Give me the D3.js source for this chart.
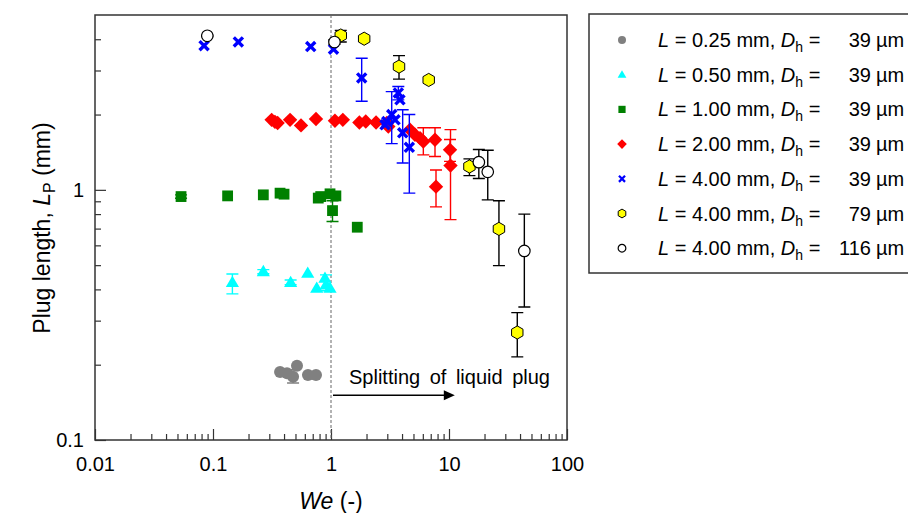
<!DOCTYPE html>
<html>
<head>
<meta charset="utf-8">
<script src="https://cdn.jsdelivr.net/npm/d3@7/dist/d3.min.js"></script>
<style>
  body { margin: 0; background: #fff; }
  text { font-family: Arial, "Liberation Sans", sans-serif; fill: #000; }
</style>
</head>
<body>
<script>
// legend labels
const seriesL = ["0.25", "0.50", "1.00", "2.00", "4.00", "4.00", "4.00"];
const seriesDh = ["39", "39", "39", "39", "39", "79", "116"];

// points: [We, Lp, errLow, errHigh]
const gray = [[0.370, 0.187], [0.424, 0.185], [0.515, 0.198], [0.477, 0.179, 0.169, 0.191],
  [0.638, 0.182], [0.746, 0.182]];
const cyan = [[0.146, 0.426, 0.384, 0.461], [0.267, 0.471, 0.462, 0.480], [0.455, 0.426, 0.418, 0.436],
  [0.635, 0.464], [0.757, 0.404], [0.889, 0.443], [0.907, 0.417, 0.395, 0.457], [0.981, 0.404]];
const green = [[0.0536, 0.940, 0.925, 0.955], [0.133, 0.946], [0.267, 0.955], [0.370, 0.970],
  [0.400, 0.961], [0.780, 0.927], [0.818, 0.940], [0.981, 0.964], [1.10, 0.946],
  [1.03, 0.826, 0.747, 0.905], [1.67, 0.709]];
const red = [[0.314, 1.905], [0.335, 1.87], [0.353, 1.85], [0.450, 1.905], [0.557, 1.81],
  [0.746, 1.92], [1.08, 1.89], [1.26, 1.905], [1.74, 1.86], [1.97, 1.875], [2.41, 1.86],
  [2.97, 1.85], [3.06, 1.79], [4.67, 1.74], [5.15, 1.66], [5.68, 1.61],
  [6.06, 1.56, 1.38, 1.77], [7.61, 1.585, 1.36, 1.77], [10.2, 1.445, 1.30, 1.59],
  [10.3, 1.25, 0.76, 1.74], [7.76, 1.03, 0.855, 1.20]];
const blue = [[0.084, 3.77], [0.164, 3.90], [0.673, 3.74], [1.05, 3.65],
  [1.82, 2.80, 2.26, 3.36], [3.72, 2.44, 2.29, 2.59], [3.84, 2.29], [3.27, 2.0, 1.53, 2.47],
  [2.97, 1.875], [2.87, 1.82], [3.49, 1.905], [4.05, 1.69, 1.28, 2.09], [4.61, 1.48, 0.97, 2.0]];
const yellow = [[1.21, 4.14, 3.90, 4.34], [1.91, 4.02], [3.77, 3.11, 2.77, 3.44], [6.73, 2.75],
  [14.9, 1.24, 1.14, 1.33], [26.5, 0.698, 0.498, 0.904], [37.9, 0.269, 0.215, 0.323]];
const openc = [[0.0895, 4.13, 4.10, 4.16], [1.07, 3.90, 3.82, 3.98], [17.9, 1.29, 1.11, 1.45],
  [21.3, 1.18, 0.912, 1.44], [43.5, 0.570, 0.34, 0.80]];

// ticks
const xMajor = [0.01, 0.1, 1, 10, 100];
const xLabels = ["0.01", "0.1", "1", "10", "100"];
const yMajor = [0.1, 1];
const yLabels = ["0.1", "1"];

(function() {
  const W = 908, H = 513;
  const svg = d3.select("body").append("svg")
    .attr("width", W).attr("height", H);

  const left = 95, right = 567, top = 15, bottom = 440;

  const x = d3.scaleLog().domain([0.01, 100]).range([left, right]);
  const y = d3.scaleLog().domain([0.1, 5]).range([bottom, top]);

  // minor ticks
  let xMinor = [];
  [0.01, 0.1, 1, 10].forEach(d => { for (let k = 2; k <= 9; k++) xMinor.push(d * k); });
  let yMinor = [];
  [0.1, 1].forEach(d => { for (let k = 2; k <= 9; k++) if (d * k < 5) yMinor.push(d * k); });

  const axisColor = "#333";

  svg.append("g").attr("transform", `translate(0,${bottom})`)
    .call(d3.axisBottom(x).tickValues(xMinor).tickSize(-6).tickSizeOuter(0).tickFormat(""));
  svg.append("g").attr("transform", `translate(0,${bottom})`)
    .call(d3.axisBottom(x).tickValues(xMajor).tickSize(-11).tickSizeOuter(0).tickPadding(17)
      .tickFormat((d, i) => xLabels[i]));
  svg.append("g").attr("transform", `translate(${left},0)`)
    .call(d3.axisLeft(y).tickValues(yMinor).tickSize(-6).tickSizeOuter(0).tickFormat(""));
  svg.append("g").attr("transform", `translate(${left},0)`)
    .call(d3.axisLeft(y).tickValues(yMajor).tickSize(-11).tickSizeOuter(0).tickPadding(11)
      .tickFormat((d, i) => yLabels[i]));

  svg.selectAll(".domain").remove();
  svg.selectAll(".tick line").attr("stroke", axisColor).attr("stroke-width", 1.2);
  svg.selectAll(".tick text").attr("font-size", 20).attr("font-family", "Arial, 'Liberation Sans', sans-serif").attr("fill", "#000");

  // frame
  svg.append("rect")
    .attr("x", left).attr("y", top).attr("width", right - left).attr("height", bottom - top)
    .attr("fill", "none").attr("stroke", axisColor).attr("stroke-width", 1.5);

  // We = 1 dashed line
  svg.append("line")
    .attr("x1", x(1)).attr("x2", x(1)).attr("y1", top).attr("y2", bottom)
    .attr("stroke", "#666").attr("stroke-width", 1).attr("stroke-dasharray", "3,2");

  // arrow annotation
  const ay = y(0.151);
  svg.append("line")
    .attr("x1", x(1) + 2).attr("x2", x(11.2) - 10).attr("y1", ay).attr("y2", ay)
    .attr("stroke", "#000").attr("stroke-width", 1.3);
  svg.append("path")
    .attr("d", `M${x(11.2)},${ay} L${x(11.2) - 11},${ay - 5} L${x(11.2) - 11},${ay + 5} Z`)
    .attr("fill", "#000");
  svg.append("text")
    .attr("x", x(1.42)).attr("y", y(0.1675))
    .attr("font-size", 20).attr("word-spacing", 4)
    .text("Splitting of liquid plug");

  // marker shapes
  function hexPath(r) {
    let pts = d3.range(6).map(i => {
      let a = (-90 + 60 * i) * Math.PI / 180;
      return [r * Math.cos(a), r * Math.sin(a)];
    });
    return "M" + pts.map(p => p.join(",")).join("L") + "Z";
  }
  function drawMarker(g, type, s) {
    if (type === "circle") {
      g.append("circle").attr("r", s * 0.5).attr("fill", "#808080");
    } else if (type === "tri") {
      let h = s * 0.95;
      g.append("path").attr("d", `M0,${-h * 0.6} L${s * 0.55},${h * 0.4} L${-s * 0.55},${h * 0.4} Z`)
        .attr("fill", "#00ffff");
    } else if (type === "square") {
      g.append("rect").attr("x", -s * 0.45).attr("y", -s * 0.45).attr("width", s * 0.9).attr("height", s * 0.9)
        .attr("fill", "#008000");
    } else if (type === "diamond") {
      let r = s * 0.6;
      g.append("path").attr("d", `M0,${-r} L${r},0 L0,${r} L${-r},0 Z`).attr("fill", "#ff0000");
    } else if (type === "cross") {
      let r = s * 0.38;
      g.append("path").attr("d", `M${-r},${-r} L${r},${r} M${-r},${r} L${r},${-r}`)
        .attr("stroke", "#0000ff").attr("stroke-width", s * 0.28).attr("fill", "none");
    } else if (type === "hex") {
      g.append("path").attr("d", hexPath(s * 0.55)).attr("fill", "#ffff00")
        .attr("stroke", "#000").attr("stroke-width", 1);
    } else if (type === "open") {
      g.append("circle").attr("r", s * 0.48).attr("fill", "#fff")
        .attr("stroke", "#000").attr("stroke-width", 1.2);
    }
  }

  const series = [
    { data: gray, type: "circle", err: "#808080" },
    { data: cyan, type: "tri", err: "#00ffff" },
    { data: green, type: "square", err: "#008000" },
    { data: red, type: "diamond", err: "#ff0000" },
    { data: blue, type: "cross", err: "#0000ff" },
    { data: yellow, type: "hex", err: "#000000" },
    { data: openc, type: "open", err: "#000000" }
  ];

  const cap = 6;
  series.forEach(sr => {
    const g = svg.append("g");
    sr.data.filter(d => d.length > 2).forEach(d => {
      const cx = x(d[0]), y0 = y(d[2]), y1 = y(d[3]);
      g.append("path")
        .attr("d", `M${cx},${y0} L${cx},${y1} M${cx - cap},${y0} L${cx + cap},${y0} M${cx - cap},${y1} L${cx + cap},${y1}`)
        .attr("stroke", sr.err).attr("stroke-width", 1.4).attr("fill", "none");
    });
    sr.data.forEach(d => {
      const m = g.append("g").attr("transform", `translate(${x(d[0])},${y(d[1])})`);
      drawMarker(m, sr.type, 12);
    });
  });

  // axis titles
  const xt = svg.append("text").attr("x", x(1)).attr("y", 509)
    .attr("text-anchor", "middle").attr("font-size", 23);
  xt.append("tspan").attr("font-style", "italic").text("We");
  xt.append("tspan").text(" (-)");

  const yt = svg.append("text")
    .attr("transform", "translate(50,228) rotate(-90)")
    .attr("text-anchor", "middle").attr("font-size", 23);
  yt.append("tspan").text("Plug length, ");
  yt.append("tspan").attr("font-style", "italic").text("L");
  yt.append("tspan").attr("font-size", 16).attr("dy", 5).text("P");
  yt.append("tspan").attr("dy", -5).text(" (mm)");

  // legend
  const lg = svg.append("g");
  lg.append("rect").attr("x", 589).attr("y", 14).attr("width", 340).attr("height", 259)
    .attr("fill", "#fff").attr("stroke", axisColor).attr("stroke-width", 1.5);
  series.forEach((sr, i) => {
    const ry = 40 + i * 34.7;
    const m = lg.append("g").attr("transform", `translate(622,${ry})`);
    drawMarker(m, sr.type, 8);
    const t = lg.append("text").attr("x", 658).attr("y", ry + 7).attr("font-size", 20);
    t.append("tspan").attr("font-style", "italic").text("L");
    t.append("tspan").text(" = " + seriesL[i] + " mm, ");
    t.append("tspan").attr("font-style", "italic").text("D");
    t.append("tspan").attr("font-size", 14).attr("dy", 5).text("h");
    t.append("tspan").attr("dy", -5).text(" =");
    lg.append("text").attr("x", 871).attr("y", ry + 7).attr("font-size", 20)
      .attr("text-anchor", "end").text(seriesDh[i]);
    lg.append("text").attr("x", 876).attr("y", ry + 7).attr("font-size", 20).text("\u00b5m");
  });
})();
</script>
</body>
</html>
